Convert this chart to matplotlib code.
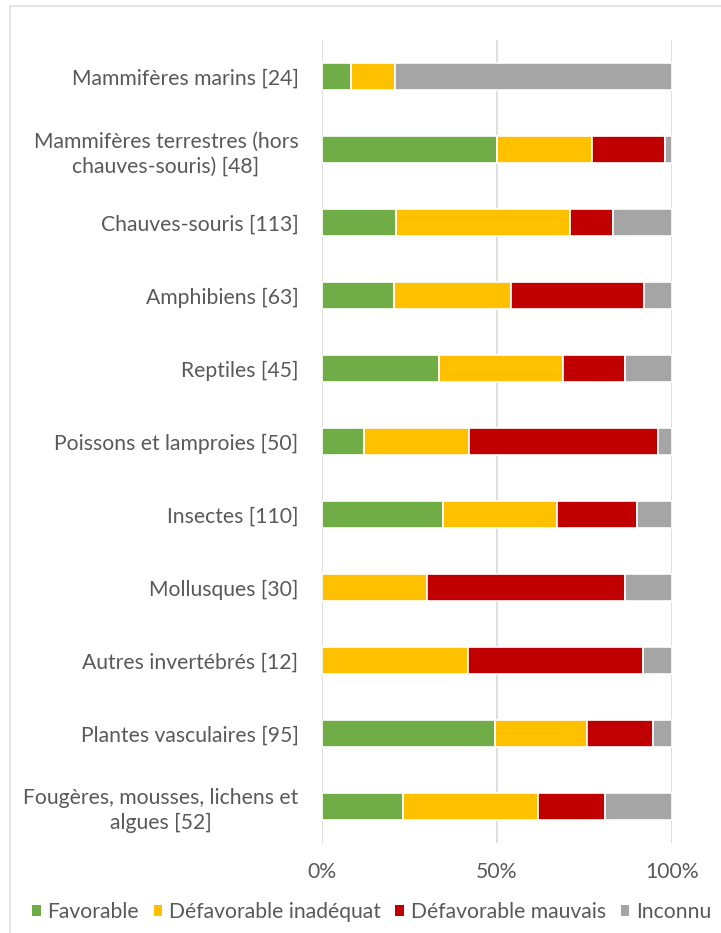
import matplotlib
matplotlib.use("Agg")
import matplotlib.pyplot as plt
from matplotlib.patches import Patch
from matplotlib.lines import Line2D
import numpy as np

categories = [
    "Mammifères marins [24]",
    "Mammifères terrestres (hors\nchauves-souris) [48]",
    "Chauves-souris [113]",
    "Amphibiens [63]",
    "Reptiles [45]",
    "Poissons et lamproies [50]",
    "Insectes [110]",
    "Mollusques [30]",
    "Autres invertébrés [12]",
    "Plantes vasculaires [95]",
    "Fougères, mousses, lichens et\nalgues [52]",
]
series_names = ["Favorable", "Défavorable inadéquat", "Défavorable mauvais", "Inconnu"]
favorable = [8.3, 50.0, 21.2, 20.6, 33.3, 12.0, 34.5, 0.0, 0.0, 49.5, 23.1]
inadequat = [12.5, 27.1, 49.6, 33.3, 35.6, 30.0, 32.7, 30.0, 41.7, 26.3, 38.5]
mauvais = [0.0, 20.8, 12.4, 38.1, 17.8, 54.0, 22.7, 56.7, 50.0, 18.9, 19.2]
inconnu = [79.2, 2.1, 16.8, 7.9, 13.3, 4.0, 10.0, 13.3, 8.3, 5.3, 19.2]
xticks = [0, 50, 100]
xtick_labels = ["0%", "50%", "100%"]

colors = ["#70ad47", "#ffc000", "#c00000", "#a5a5a5"]
text_color = "#595959"
font = ["Lato", "DejaVu Sans"]
plt.rcParams["font.family"] = font
FS = 15.2

W, H = 721, 933
fig = plt.figure(figsize=(W / 100, H / 100), dpi=100)
ax = fig.add_axes([322 / W, 1 - 843 / H, 350 / W, 803 / H])

y = np.arange(len(categories))
left = np.zeros(len(categories))
for vals, c, name in zip([favorable, inadequat, mauvais, inconnu], colors, series_names):
    ax.barh(y, vals, left=left, height=0.37, color=c, edgecolor="white", linewidth=1.2, label=name, zorder=3)
    left = left + np.array(vals)

ax.set_ylim(len(categories) - 0.5, -0.5)
ax.set_xlim(0, 100)
ax.set_yticks(y)
ax.set_yticklabels(categories, fontsize=FS, color=text_color, linespacing=1.3)
for t in ax.get_yticklabels():
    t.set_multialignment("center")
ax.set_xticks(xticks)
ax.set_xticklabels(xtick_labels, fontsize=FS, color=text_color)
ax.tick_params(axis="y", length=0, pad=17)
ax.tick_params(axis="x", length=0, pad=14)
ax.grid(axis="x", color="#d9d9d9", linewidth=1.2, zorder=0)
for s in ax.spines.values():
    s.set_visible(False)

# outer frame
fig.add_artist(Line2D([10 / W, 1], [1 - 6 / H, 1 - 6 / H], color="#e0e0e0", linewidth=1.2, transform=fig.transFigure))
fig.add_artist(Line2D([10 / W, 10 / W], [0, 1 - 6 / H], color="#e0e0e0", linewidth=1.2, transform=fig.transFigure))

handles = [Patch(facecolor=c, edgecolor="none") for c in colors]
leg = fig.legend(handles, series_names, loc="center left", bbox_to_anchor=(32 / W, 1 - 912 / H),
                 ncol=4, frameon=False, fontsize=FS, handlelength=0.42, handleheight=0.42,
                 handletextpad=0.3, columnspacing=0.7, borderaxespad=0, borderpad=0)
for t in leg.get_texts():
    t.set_color(text_color)

fig.savefig("out.png", dpi=100)
